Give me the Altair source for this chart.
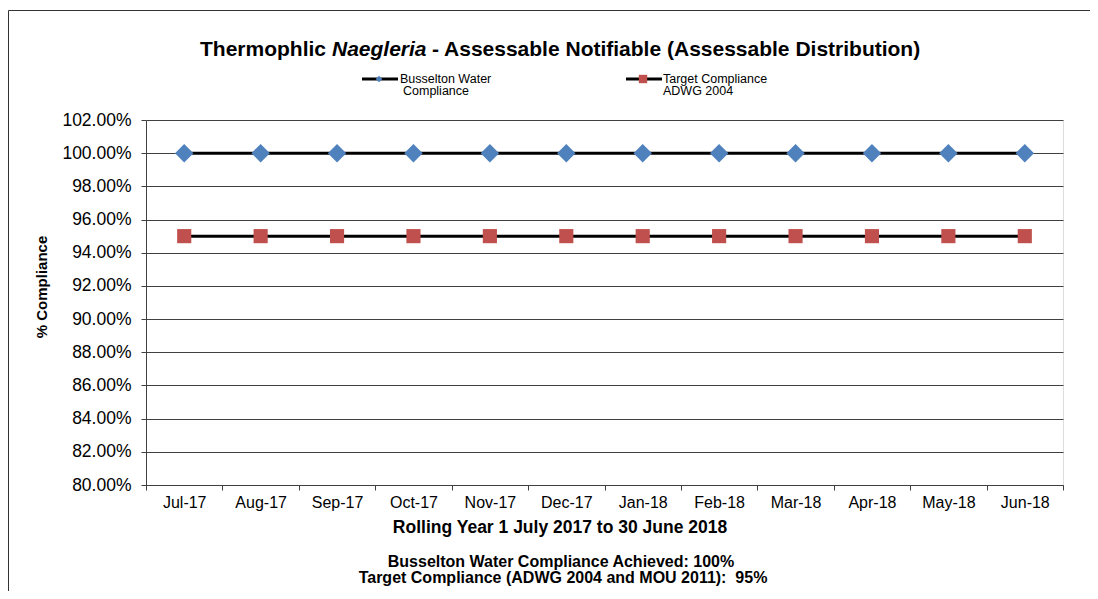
import altair as alt
import pandas as pd

months = ["Jul-17", "Aug-17", "Sep-17", "Oct-17", "Nov-17", "Dec-17",
          "Jan-18", "Feb-18", "Mar-18", "Apr-18", "May-18", "Jun-18"]
busselton = [1.00, 1.00, 1.00, 1.00, 1.00, 1.00, 1.00, 1.00, 1.00, 1.00, 1.00, 1.00]
target = [0.95, 0.95, 0.95, 0.95, 0.95, 0.95, 0.95, 0.95, 0.95, 0.95, 0.95, 0.95]
series_names = ["Busselton Water Compliance", "Target Compliance ADWG 2004"]
series_colors = ["#4F81BD", "#C0504D"]
series_shapes = ["diamond", "square"]
y_ticks = [0.80, 0.82, 0.84, 0.86, 0.88, 0.90, 0.92, 0.94, 0.96, 0.98, 1.00, 1.02]

rows = []
for m, b, t in zip(months, busselton, target):
    rows.append({"month": m, "series": series_names[0], "value": b})
    rows.append({"month": m, "series": series_names[1], "value": t})
df = pd.DataFrame(rows)

W, H = 917, 365
PL, PT = 138, 112
FONT = "Liberation Sans"

x_enc = alt.X("month:N", sort=months, bandPosition=0.5,
              scale=alt.Scale(type="band", paddingInner=0, paddingOuter=0),
              axis=alt.Axis(title=None, tickBand="extent", labelAngle=0,
                            labelFontSize=16, labelFont=FONT, labelColor="#000",
                            labelPadding=4, tickSize=5, tickColor="#404040",
                            domainColor="#404040", grid=False))
y_enc = alt.Y("value:Q",
              scale=alt.Scale(domain=[0.80, 1.02], nice=False, zero=False),
              axis=alt.Axis(title=None, values=y_ticks, format=".2%",
                            labelFontSize=17.5, labelFont=FONT, labelColor="#000",
                            labelPadding=10, tickSize=5, tickColor="#404040",
                            domainColor="#404040", grid=True, gridColor="#404040",
                            gridWidth=1))

base = alt.Chart(df)
lines = base.mark_line(color="black", strokeWidth=3).encode(
    x=x_enc, y=y_enc, detail="series:N")
points = base.mark_point(filled=True, opacity=1, strokeWidth=0).encode(
    x=x_enc, y=y_enc,
    color=alt.Color("series:N", scale=alt.Scale(domain=series_names, range=series_colors), legend=None),
    shape=alt.Shape("series:N", scale=alt.Scale(domain=series_names, range=series_shapes), legend=None),
    size=alt.Size("series:N", scale=alt.Scale(domain=series_names, range=[340, 200]), legend=None),
)

one = pd.DataFrame({"k": [0]})

def txt(text, px, py, size, bold=False, italic=False, align="left", angle=0, baseline="middle"):
    kw = dict(text=text, fontSize=size, font=FONT, color="black", align=align, baseline=baseline,
              fontWeight="bold" if bold else "normal")
    if italic:
        kw["fontStyle"] = "italic"
    if angle:
        kw["angle"] = angle
    return alt.Chart(one).mark_text(**kw).encode(
        x=alt.value(px - 146), y=alt.value(py - 120))

def seg(x1, y1, x2, y2, color="black", w=3):
    return alt.Chart(one).mark_rule(color=color, strokeWidth=w).encode(
        x=alt.value(x1 - 146), x2=alt.value(x2 - 146),
        y=alt.value(y1 - 120), y2=alt.value(y2 - 120))

def sym(px, py, shape, color, size):
    return alt.Chart(one).mark_point(filled=True, opacity=1, shape=shape, color=color, size=size,
                                      strokeWidth=0).encode(
        x=alt.value(px - 146), y=alt.value(py - 120))

title_parts = [
    txt("Thermophlic", 200, 50, 21, bold=True),
    txt("Naegleria", 332, 50, 21, bold=True, italic=True),
    txt("- Assessable Notifiable (Assessable Distribution)", 432, 50, 21, bold=True),
]

legend = [
    seg(362, 79, 398, 79, w=3),
    sym(379, 79, "diamond", series_colors[0], 45),
    txt("Busselton Water", 400, 79, 12.5),
    txt("Compliance", 403, 91, 12.5),
    seg(626, 79, 662, 79, w=3),
    sym(643, 79, "square", series_colors[1], 70),
    txt("Target Compliance", 663, 79, 12.5),
    txt("ADWG 2004", 663, 91, 12.5),
]

frame = alt.Chart(one).mark_rect(fillOpacity=0, stroke="#333333", strokeWidth=1).encode(
    x=alt.value(8.5 - 146), x2=alt.value(1130 - 146),
    y=alt.value(10.5 - 120), y2=alt.value(640 - 120))

others = [
    txt("% Compliance", 42, 287, 15, bold=True, align="center", angle=270),
    txt("Rolling Year 1 July 2017 to 30 June 2018", 560, 528, 17.5, bold=True, align="center"),
    txt("Busselton Water Compliance Achieved: 100%", 561, 562, 16, bold=True, align="center"),
    txt("Target Compliance (ADWG 2004 and MOU 2011):\u00a0 95%", 563, 578, 16, bold=True, align="center"),
    frame,
]

chart = alt.layer(lines, points, *title_parts, *legend, *others).properties(
    width=W, height=H,
    autosize=alt.AutoSizeParams(type="none"),
    padding={"left": PL, "top": PT, "right": 1082 - PL - W, "bottom": 583 - PT - H},
).configure_view(
    fill="#FFFF99", stroke="#808080", strokeWidth=1
).configure(background="white")

chart.save("out.html", embed_options={"renderer": "svg", "actions": False})
